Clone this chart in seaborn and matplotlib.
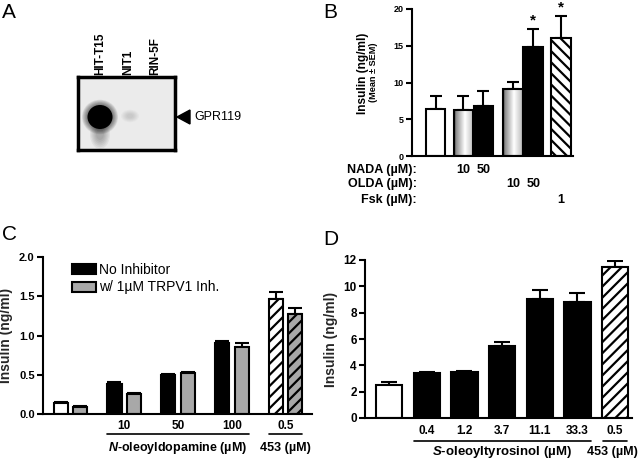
import numpy as np
import pandas as pd
import matplotlib
matplotlib.use("Agg")
import matplotlib.pyplot as plt
import seaborn as sns
from matplotlib.patches import Ellipse, Polygon, Rectangle

# ---- Panel A: blot lanes ----
a_lanes = ["HIT-T15", "NIT1", "RIN-5F"]
a_band = "GPR119"

# ---- Panel B ----
b_mean = [6.4, 6.2, 6.8, 9.1, 14.8, 16.05]
b_sem = [1.8, 1.9, 2.1, 1.0, 2.5, 2.95]
b_star = [False, False, False, False, True, True]
b_fill = ["white", "grad", "black", "grad", "black", "hatch"]
b_rows = ["NADA (\u00b5M):", "OLDA (\u00b5M):", "Fsk (\u00b5M):"]
nada_row = ["", "10", "50", "", "", ""]
olda_row = ["", "", "", "10", "50", ""]
fsk_row = ["", "", "", "", "", "1"]

# ---- Panel C ----
c_groups = ["ctrl", "10", "50", "100", "453"]
c_ticklabels = ["", "10", "50", "100", "0.5"]
c_conds = ["No Inhibitor", "w/ 1\u00b5M TRPV1 Inh."]
c_no_inh = [0.145, 0.385, 0.50, 0.91, 1.465]
c_no_inh_sem = [0.012, 0.02, 0.01, 0.015, 0.09]
c_trpv1 = [0.09, 0.25, 0.52, 0.85, 1.28]
c_trpv1_sem = [0.015, 0.022, 0.01, 0.05, 0.075]

# ---- Panel D ----
d_groups = ["ctrl", "0.4", "1.2", "3.7", "11.1", "33.3", "453"]
d_ticklabels = ["", "0.4", "1.2", "3.7", "11.1", "33.3", "0.5"]
d_mean = [2.54, 3.38, 3.48, 5.46, 9.06, 8.83, 11.45]
d_sem = [0.2, 0.12, 0.07, 0.3, 0.66, 0.64, 0.45]

sns.set_theme(style="ticks", rc={"axes.edgecolor": "black", "ytick.color": "black",
                                 "xtick.color": "black", "text.color": "black"})
plt.rcParams["font.family"] = ["Liberation Sans", "DejaVu Sans"]
plt.rcParams["mathtext.fontset"] = "custom"
plt.rcParams["mathtext.it"] = "Liberation Sans:italic:bold"
plt.rcParams["mathtext.rm"] = "Liberation Sans:bold"
plt.rcParams["hatch.linewidth"] = 1.6
plt.rcParams["axes.linewidth"] = 1.5

W, H = 640, 462
fig = plt.figure(figsize=(6.4, 4.62), dpi=100)
fig.patch.set_facecolor("white")


def box(l, t, r, b):
    return [l / W, 1 - b / H, (r - l) / W, (b - t) / H]


def style_axis(ax, ymax, step, fs):
    ax.set_ylim(0, ymax)
    ax.set_yticks(np.arange(0, ymax + step / 2, step))
    sns.despine(ax=ax)
    ax.set_facecolor("none")
    ax.tick_params(axis="y", length=4, width=1.5, labelsize=fs, pad=2)
    ax.tick_params(axis="x", length=0)
    for lab in ax.get_yticklabels():
        lab.set_fontweight("bold")
    ax.set_xlabel("")
    ax.set_ylabel("")


def bars_of(ax):
    return sorted([p for p in ax.patches if isinstance(p, Rectangle)], key=lambda p: p.get_x())


# panel letters
for letter, x, y in [("A", 2, 18), ("B", 323, 18), ("C", 2, 240), ("D", 323, 245)]:
    fig.text(x / W, 1 - y / H, letter, fontsize=15, va="baseline", ha="left")

# ================= A =================
axA = fig.add_axes(box(78, 77, 175, 150))
axA.set_xlim(78, 175)
axA.set_ylim(150, 77)
axA.set_facecolor("#ebebeb")
axA.set_xticks([])
axA.set_yticks([])
for s in axA.spines.values():
    s.set_linewidth(2.5)
    s.set_color("black")
lane_x = [100, 128, 155]
# faint smear under the strong band
for k in np.linspace(1.0, 0.4, 6):
    axA.add_patch(Ellipse((100, 134), 20 * k, 30 * k, color="black", alpha=0.05, lw=0))
for k in np.linspace(1.5, 1.05, 8):
    axA.add_patch(Ellipse((lane_x[0], 117), 24 * k, 23 * k, color="black", alpha=0.08, lw=0))
axA.add_patch(Ellipse((lane_x[0], 117), 25, 24, color="black", lw=0))
for k in np.linspace(1.4, 0.5, 6):
    axA.add_patch(Ellipse((lane_x[1] + 2, 116), 13 * k, 9 * k, color="black", alpha=0.025, lw=0))
for x, lab in zip(lane_x, a_lanes):
    axA.text(x, 75, lab, rotation=90, ha="center", va="bottom", fontsize=8.5,
             fontweight="bold", clip_on=False)
axA.add_patch(Polygon([(177, 117), (190, 110), (190, 124)], closed=True, color="black",
                      clip_on=False))
axA.text(194, 117.5, a_band, va="center", ha="left", fontsize=9, clip_on=False)

# ================= B =================
axB = fig.add_axes(box(412, 9, 573, 156))
b_pos = [0, 1.4, 2.4, 3.9, 4.9, 6.3]
df_b = pd.DataFrame({"pos": b_pos, "mean": b_mean})
sns.barplot(data=df_b, x="pos", y="mean", native_scale=True, orient="x", width=0.98,
            color="white", edgecolor="black", linewidth=1.5, errorbar=None, ax=axB)
bars = bars_of(axB)
grad = np.interp(np.linspace(0, 1, 100), [0, 0.1, 0.55, 1], [0.2, 0.55, 1.0, 0.72])[None, :]
for p, kind in zip(bars, b_fill):
    p.set_zorder(2)
    if kind == "black":
        p.set_facecolor("black")
    elif kind == "hatch":
        p.set_facecolor("white")
        p.set_hatch("\\\\\\")
    elif kind == "grad":
        p.set_facecolor("none")
        x0, w, h = p.get_x(), p.get_width(), p.get_height()
        axB.imshow(grad, cmap="gray", vmin=0, vmax=1, aspect="auto",
                   extent=(x0, x0 + w, 0, h), zorder=1.5)
bx = [p.get_x() + p.get_width() / 2 for p in bars]
axB.errorbar(bx, b_mean, yerr=[np.zeros(len(b_mean)), b_sem], fmt="none", ecolor="black",
             elinewidth=1.5, capsize=4.5, capthick=1.5, zorder=1)
for x, m, s, st in zip(bx, b_mean, b_sem, b_star):
    if st:
        axB.text(x, m + s + 0.2, "*", ha="center", va="bottom", fontsize=11,
                 fontweight="bold", clip_on=False)
axB.set_xlim(-1.18, 6.9)
style_axis(axB, 20, 5, 6.5)
axB.set_xticks([])
fig.text(363 / W, 1 - 73 / H, "Insulin (ng/ml)", rotation=90, ha="center", va="center",
         fontsize=8.6, fontweight="bold")
fig.text(373 / W, 1 - 72 / H, "(Mean \u00b1 SEM)", rotation=90, ha="center", va="center",
         fontsize=6.6, fontweight="bold")
row_y = [170, 184, 200]
for ry, lab, vals in zip(row_y, b_rows, [nada_row, olda_row, fsk_row]):
    fig.text(417 / W, 1 - ry / H, lab, ha="right", va="center", fontsize=9, fontweight="bold")
    for x, v in zip(bx, vals):
        if v:
            axB.text(x, (156 - ry) / 147, v, transform=axB.get_xaxis_transform(),
                     ha="center", va="center", fontsize=9, fontweight="bold", clip_on=False)

# ================= C =================
axC = fig.add_axes(box(43, 257, 312, 414))
df_c = pd.DataFrame({"group": c_groups * 2, "insulin": c_no_inh + c_trpv1,
                     "cond": [c_conds[0]] * 5 + [c_conds[1]] * 5})
sns.barplot(data=df_c, x="group", y="insulin", hue="cond", order=c_groups, hue_order=c_conds,
            palette=["black", "#a8a8a8"], width=0.725, gap=0.28, edgecolor="black",
            linewidth=1.5, errorbar=None, legend=False, ax=axC)
cbars = bars_of(axC)
c_vals = []
c_sems = []
for i in range(len(c_groups)):
    c_vals += [c_no_inh[i], c_trpv1[i]]
    c_sems += [c_no_inh_sem[i], c_trpv1_sem[i]]
for p in cbars:
    p.set_zorder(2)
cbars[0].set_facecolor("white")
cbars[-2].set_facecolor("white")
cbars[-2].set_hatch("///")
cbars[-1].set_hatch("///")
cx = [p.get_x() + p.get_width() / 2 for p in cbars]
axC.errorbar(cx, c_vals, yerr=[np.zeros(len(c_vals)), c_sems], fmt="none", ecolor="black",
             elinewidth=1.5, capsize=5, capthick=1.5, zorder=1)
axC.set_xlim(-0.51, 4.49)
style_axis(axC, 2.0, 0.5, 8)
axC.yaxis.set_major_formatter(matplotlib.ticker.FormatStrFormatter("%.1f"))
axC.set_xticks(range(len(c_groups)))
axC.set_xticklabels(c_ticklabels, fontsize=8.5, fontweight="bold")
axC.tick_params(axis="x", pad=4)
axC.set_ylabel("Insulin (ng/ml)", fontsize=10, fontweight="bold", labelpad=4)
xt = axC.get_xaxis_transform()
for (a, b), lab in [((2, 7), "$\\mathit{N}$-oleoyldopamine (\u00b5M)"), ((8, 9), "453 (\u00b5M)")]:
    x0 = cbars[a].get_x()
    x1 = cbars[b].get_x() + cbars[b].get_width()
    axC.plot([x0, x1], [-0.127, -0.127], transform=xt, color="black", lw=1.2, clip_on=False)
    axC.text((x0 + x1) / 2, -0.215, lab, transform=xt, ha="center", va="center",
             fontsize=9, fontweight="bold")
handles = [Rectangle((0, 0), 1, 1, facecolor="black", edgecolor="black", lw=1.5),
           Rectangle((0, 0), 1, 1, facecolor="#a8a8a8", edgecolor="black", lw=1.5)]
axC.legend(handles, c_conds, loc="upper left", bbox_to_anchor=(0.108, 0.962), frameon=False,
           fontsize=10, handlelength=1.75, handleheight=0.75, handletextpad=0.2,
           labelspacing=0.25, borderpad=0, borderaxespad=0)

# ================= D =================
axD = fig.add_axes(box(365, 260, 632, 418))
df_d = pd.DataFrame({"dose": d_groups, "insulin": d_mean})
sns.barplot(data=df_d, x="dose", y="insulin", order=d_groups, color="black", width=0.7,
            edgecolor="black", linewidth=1.5, errorbar=None, ax=axD)
dbars = bars_of(axD)
for p in dbars:
    p.set_facecolor("black")
    p.set_zorder(2)
dbars[0].set_facecolor("white")
dbars[-1].set_facecolor("white")
dbars[-1].set_hatch("///")
dx = [p.get_x() + p.get_width() / 2 for p in dbars]
axD.errorbar(dx, d_mean, yerr=[np.zeros(len(d_mean)), d_sem], fmt="none", ecolor="black",
             elinewidth=1.5, capsize=6, capthick=1.5, zorder=1)
axD.set_xlim(-0.64, 6.45)
style_axis(axD, 12, 2, 8.5)
axD.set_xticks(range(len(d_groups)))
axD.set_xticklabels(d_ticklabels, fontsize=8.5, fontweight="bold")
axD.tick_params(axis="x", pad=5)
axD.set_ylabel("Insulin (ng/ml)", fontsize=10, fontweight="bold", labelpad=4)
xt = axD.get_xaxis_transform()
x0 = dbars[1].get_x()
x1 = dbars[5].get_x() + dbars[5].get_width()
axD.plot([x0, x1], [-0.146, -0.146], transform=xt, color="black", lw=1.2, clip_on=False)
axD.text((x0 + x1) / 2, -0.215, "$\\mathit{S}$-oleoyltyrosinol (\u00b5M)", transform=xt,
         ha="center", va="center", fontsize=9.5, fontweight="bold")
x0 = dbars[6].get_x() + 0.03
x1 = dbars[6].get_x() + dbars[6].get_width() - 0.03
axD.plot([x0, x1], [-0.146, -0.146], transform=xt, color="black", lw=1.2, clip_on=False)
fig.text(638 / W, 1 - 452 / H, "453 (\u00b5M)", ha="right", va="center", fontsize=9,
         fontweight="bold")

fig.savefig("out.png", dpi=100)
